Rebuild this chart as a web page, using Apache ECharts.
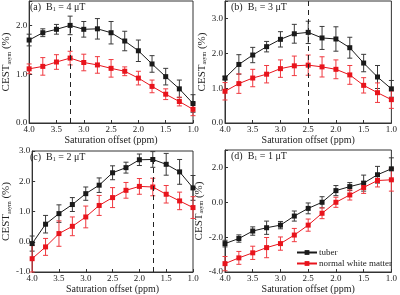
<!DOCTYPE html>
<html><head><meta charset="utf-8">
<script src="https://cdn.jsdelivr.net/npm/echarts@6/dist/echarts.min.js"></script>
<style>html,body{margin:0;padding:0;background:#fff}#c{width:400px;height:295px}</style>
</head><body><div id="c"></div>
<script>
var offsets = [4.0, 3.75, 3.5, 3.25, 3.0, 2.75, 2.5, 2.25, 2.0, 1.75, 1.5, 1.25, 1.0];
var xTicks = [4.0, 3.5, 3.0, 2.5, 2.0, 1.5, 1.0];

// (a) B1 = 4 uT
var aTuber    = [1.70, 1.85, 1.92, 2.00, 1.92, 1.93, 1.85, 1.68, 1.48, 1.21, 0.95, 0.70, 0.40];
var aTuberErr = [0.12, 0.08, 0.10, 0.19, 0.16, 0.21, 0.23, 0.20, 0.22, 0.17, 0.17, 0.18, 0.18];
var aWM       = [1.11, 1.16, 1.25, 1.33, 1.24, 1.19, 1.12, 1.06, 0.92, 0.75, 0.59, 0.44, 0.28];
var aWMErr    = [0.10, 0.18, 0.15, 0.14, 0.17, 0.17, 0.18, 0.09, 0.14, 0.13, 0.11, 0.09, 0.13];
// (b) B1 = 3 uT
var bTuber    = [1.29, 1.68, 1.95, 2.19, 2.40, 2.56, 2.60, 2.44, 2.41, 2.16, 1.72, 1.32, 0.98];
var bTuberErr = [0.05, 0.28, 0.22, 0.15, 0.22, 0.27, 0.32, 0.33, 0.35, 0.30, 0.25, 0.33, 0.24];
var bWM       = [0.91, 1.13, 1.29, 1.40, 1.56, 1.64, 1.66, 1.61, 1.54, 1.38, 1.08, 0.87, 0.67];
var bWMErr    = [0.25, 0.28, 0.25, 0.25, 0.25, 0.28, 0.29, 0.29, 0.27, 0.27, 0.22, 0.28, 0.25];
// (c) B1 = 2 uT
var cTuber    = [-0.06, 0.58, 0.93, 1.23, 1.59, 1.87, 2.28, 2.45, 2.71, 2.72, 2.56, 2.31, 1.78];
var cTuberErr = [0.25, 0.29, 0.29, 0.23, 0.22, 0.24, 0.23, 0.18, 0.19, 0.26, 0.36, 0.41, 0.41];
var cWM       = [-0.56, -0.17, 0.27, 0.51, 0.82, 1.20, 1.46, 1.70, 1.83, 1.81, 1.57, 1.35, 1.13];
var cWMErr    = [0.44, 0.28, 0.42, 0.31, 0.36, 0.33, 0.33, 0.26, 0.26, 0.29, 0.29, 0.29, 0.36];
// (d) B1 = 1 uT
var dTuber    = [-2.37, -2.08, -1.65, -1.46, -1.31, -0.79, -0.35, 0.00, 0.67, 0.90, 1.10, 1.58, 1.92];
var dTuberErr = [0.19, 0.21, 0.24, 0.38, 0.21, 0.29, 0.31, 0.32, 0.29, 0.23, 0.46, 0.48, 0.63];
var dWM       = [-3.52, -3.19, -2.90, -2.60, -2.37, -1.88, -1.31, -0.63, 0.00, 0.42, 0.85, 1.25, 1.29];
var dWMErr    = [0.41, 0.37, 0.38, 0.58, 0.38, 0.38, 0.35, 0.31, 0.29, 0.29, 0.34, 0.37, 0.65];

var seriesNames = ['tuber', 'normal white matter'];
var panelLabels = ['(a)', '(b)', '(c)', '(d)'];
var b1Values = ['4', '3', '2', '1'];
var yMins = [0, 0, -1, -4];
var yMaxs = [2.5, 3.5, 3, 3];
var yIntervals = [1, 1, 1, 2];
var peakOffsets = [3.25, 2.5, 1.75, null];
var peakTops = [2.0, 3.5, 2.72, null];

var panels = [
  [aTuber, aTuberErr, aWM, aWMErr],
  [bTuber, bTuberErr, bWM, bWMErr],
  [cTuber, cTuberErr, cWM, cWMErr],
  [dTuber, dTuberErr, dWM, dWMErr]
];

var FONT = '"Liberation Serif", "DejaVu Serif", serif';
var BLACK = '#1a1a1a', RED = '#e8141c';
var grids = [
  {left: 24, top: 1, width: 169, height: 122},
  {left: 225, top: 1, width: 168, height: 122},
  {left: 24, top: 151, width: 169, height: 121},
  {left: 225, top: 150, width: 168, height: 122}
];

function errRender(color) {
  return function (params, api) {
    var x = api.value(0), lo = api.value(1), hi = api.value(2);
    var p1 = api.coord([x, hi]), p2 = api.coord([x, lo]);
    var w = 2.5;
    var st = {stroke: color, lineWidth: 1};
    return {type: 'group', children: [
      {type: 'line', shape: {x1: p1[0], y1: p1[1], x2: p2[0], y2: p2[1]}, style: st},
      {type: 'line', shape: {x1: p1[0] - w, y1: p1[1], x2: p1[0] + w, y2: p1[1]}, style: st},
      {type: 'line', shape: {x1: p2[0] - w, y1: p2[1], x2: p2[0] + w, y2: p2[1]}, style: st}
    ]};
  };
}

var xAxes = [], yAxes = [], series = [], graphics = [];
grids.forEach(function (g, i) {
  g.show = true; g.borderColor = '#333'; g.borderWidth = 1; g.backgroundColor = 'transparent';
  xAxes.push({
    gridIndex: i, type: 'value', min: 1, max: 4, interval: 0.5, inverse: true,
    name: 'Saturation offset (ppm)', nameLocation: 'middle', nameGap: 11,
    nameTextStyle: {fontFamily: FONT, fontSize: 10, color: '#222'},
    axisLine: {onZero: false, lineStyle: {color: '#333'}},
    axisTick: {inside: true, length: 3, lineStyle: {color: '#333'}},
    axisLabel: {fontFamily: FONT, fontSize: 9, color: '#222', margin: 2,
      formatter: function (v) { return xTicks.indexOf(v) >= 0 ? v.toFixed(1) : ''; }},
    splitLine: {show: false}
  });
  yAxes.push({
    gridIndex: i, type: 'value', min: yMins[i], max: yMaxs[i], interval: yIntervals[i],
    name: '{m|CEST}{s|asym}{m| (%)}', nameLocation: 'middle', nameGap: 15,
    nameTextStyle: {fontFamily: FONT, fontSize: 11, color: '#222',
      rich: {m: {fontFamily: FONT, fontSize: 11, color: '#222'},
             s: {fontFamily: FONT, fontSize: 6, color: '#222', padding: [5, 0, 0, 0]}}},
    axisLine: {onZero: false, lineStyle: {color: '#333'}},
    axisTick: {inside: true, length: 3, lineStyle: {color: '#333'}},
    axisLabel: {fontFamily: FONT, fontSize: 9, color: '#222', margin: 2,
      formatter: function (v) { return (v % yIntervals[i] === 0) ? v.toFixed(1) : ''; }},
    splitLine: {show: false}
  });
  var d = panels[i];
  var colors = [BLACK, RED];
  var errColors = ['#3a3a3a', '#f03a40'];
  [0, 1].forEach(function (k) {
    var mean = d[k * 2], err = d[k * 2 + 1];
    series.push({
      type: 'custom', xAxisIndex: i, yAxisIndex: i, silent: true,
      renderItem: errRender(errColors[k]),
      encode: {x: 0, y: [1, 2]},
      data: offsets.map(function (x, j) { return [x, mean[j] - err[j], mean[j] + err[j]]; }),
      z: 2
    });
  });
  [0, 1].forEach(function (k) {
    var mean = d[k * 2];
    var s = {
      name: seriesNames[k], type: 'line', xAxisIndex: i, yAxisIndex: i,
      data: offsets.map(function (x, j) { return [x, mean[j]]; }),
      symbol: 'rect', symbolSize: 5, showSymbol: true,
      itemStyle: {color: colors[k]}, lineStyle: {color: colors[k], width: 1},
      z: 3, animation: false
    };
    if (k === 0 && peakOffsets[i] !== null) {
      s.markLine = {
        silent: true, symbol: 'none', label: {show: false},
        lineStyle: {type: [5, 4], color: '#222', width: 1},
        data: [[{coord: [peakOffsets[i], yMins[i]]}, {coord: [peakOffsets[i], peakTops[i]]}]]
      };
    }
    series.push(s);
  });
  graphics.push({
    type: 'text', left: g.left + 6, top: g.top + 1,
    style: {
      text: '{m|' + panelLabels[i] + '  B}{s|1}{m| = ' + b1Values[i] + ' μT}',
      rich: {m: {fontFamily: FONT, fontSize: 10, fill: '#222'},
             s: {fontFamily: FONT, fontSize: 6, fill: '#222', padding: [5, 0, 0, 0]}}
    }
  });
});

var chart = echarts.init(document.getElementById('c'), null, {renderer: 'canvas'});
chart.setOption({
  animation: false,
  grid: grids,
  xAxis: xAxes,
  yAxis: yAxes,
  series: series,
  graphic: graphics,
  legend: {
    data: seriesNames, orient: 'vertical', left: 296, top: 248,
    itemWidth: 20, itemHeight: 6, itemGap: 2, padding: 0,
    textStyle: {fontFamily: FONT, fontSize: 9, color: '#222', padding: [0, 0, 0, -3]},
    inactiveColor: '#ccc'
  }
});
</script></body></html>
